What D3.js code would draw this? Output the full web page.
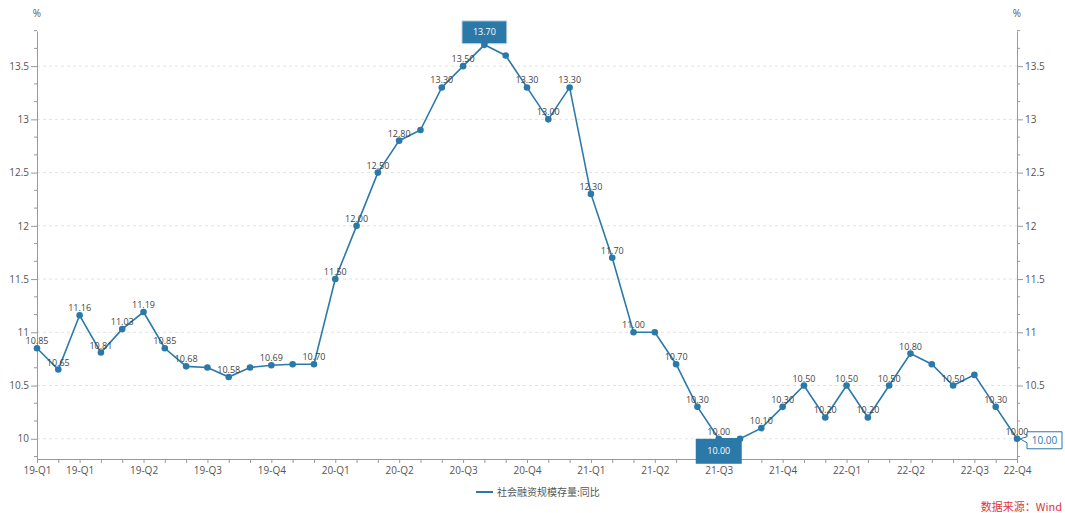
<!DOCTYPE html>
<html>
<head>
<meta charset="utf-8">
<script src="https://cdn.jsdelivr.net/npm/d3@7"></script>
<style>
  html, body { margin: 0; padding: 0; background: #fff; }
  svg { display: block; }
  text { font-family: "Open Sans", "Noto Sans CJK SC", sans-serif; }
</style>
</head>
<body>
<svg id="chart" width="1065" height="513"></svg>
<script>
// ---- data ----
const categories = [
  "2019-01","2019-02","2019-03","2019-04","2019-05","2019-06","2019-07","2019-08","2019-09","2019-10","2019-11","2019-12",
  "2020-01","2020-02","2020-03","2020-04","2020-05","2020-06","2020-07","2020-08","2020-09","2020-10","2020-11","2020-12",
  "2021-01","2021-02","2021-03","2021-04","2021-05","2021-06","2021-07","2021-08","2021-09","2021-10","2021-11","2021-12",
  "2022-01","2022-02","2022-03","2022-04","2022-05","2022-06","2022-07","2022-08","2022-09","2022-10","2022-11"
];
const values = [
  10.85,10.65,11.16,10.81,11.03,11.19,10.85,10.68,10.67,10.58,10.67,10.69,
  10.70,10.70,11.50,12.00,12.50,12.80,12.90,13.30,13.50,13.70,13.60,13.30,
  13.00,13.30,12.30,11.70,11.00,11.00,10.70,10.30,10.00,10.00,10.10,10.30,
  10.50,10.20,10.50,10.20,10.50,10.80,10.70,10.50,10.60,10.30,10.00
];
const tickLabels = [
  "19-Q1","","19-Q1","","","19-Q2","","","19-Q3","","","19-Q4",
  "","","20-Q1","","","20-Q2","","","20-Q3","","","20-Q4",
  "","","21-Q1","","","21-Q2","","","21-Q3","","","21-Q4",
  "","","22-Q1","","","22-Q2","","","22-Q3","","22-Q4"
];
const yTicks = [10, 10.5, 11, 11.5, 12, 12.5, 13, 13.5];
const yMinorTicks = [9.8333,10.1667,10.3333,10.6667,10.8333,11.1667,11.3333,11.6667,11.8333,12.1667,12.3333,12.6667,12.8333,13.1667,13.3333,13.6667,13.8333];
const seriesName = "社会融资规模存量:同比";
const sourceText = "数据来源：Wind";
const yUnit = "%";

// ---- layout ----
const color = "#2a79a8";
const pLeft = 37, pRight = 1017, pTop = 31, pBottom = 459;
const svg = d3.select("#chart");

const x = d3.scalePoint().domain(d3.range(values.length)).range([pLeft, pRight]);
const y = d3.scaleLinear().domain([9.81, 13.83]).range([pBottom, pTop]);

// grid
svg.append("g").selectAll("line").data(yTicks).join("line")
  .attr("x1", pLeft).attr("x2", pRight)
  .attr("y1", d => y(d)).attr("y2", d => y(d))
  .attr("stroke", "#e3e3e3").attr("stroke-dasharray", "3,3").attr("stroke-width", 1);

// axes
function styleAxis(g) {
  g.selectAll(".domain").attr("stroke", "#999");
  g.selectAll(".tick line").attr("stroke", "#999");
  g.selectAll(".tick text").attr("fill", "#555").style("font-size", "10px")
   .style("font-family", '"Open Sans", sans-serif');
}
const yLeft = svg.append("g").attr("transform", `translate(${pLeft},0)`)
  .call(d3.axisLeft(y).tickValues(yTicks).tickSize(6).tickPadding(2).tickSizeOuter(0).tickFormat(d3.format("")));
styleAxis(yLeft);
yLeft.append("g").selectAll("line").data(yMinorTicks).join("line")
  .attr("x1", -3).attr("x2", 0).attr("y1", d => y(d)).attr("y2", d => y(d)).attr("stroke", "#999");

const yRight = svg.append("g").attr("transform", `translate(${pRight},0)`)
  .call(d3.axisRight(y).tickValues(yTicks).tickSize(6).tickPadding(2).tickSizeOuter(0).tickFormat(d3.format("")));
styleAxis(yRight);
yRight.append("g").selectAll("line").data(yMinorTicks).join("line")
  .attr("x1", 0).attr("x2", 3).attr("y1", d => y(d)).attr("y2", d => y(d)).attr("stroke", "#999");

const xAxis = svg.append("g").attr("transform", `translate(0,${pBottom})`)
  .call(d3.axisBottom(x).tickSize(4).tickPadding(4).tickSizeOuter(0).tickFormat(i => tickLabels[i]));
styleAxis(xAxis);

// unit labels
svg.append("text").attr("x", pLeft).attr("y", 17).attr("text-anchor", "middle")
  .attr("fill", "#555").style("font-size", "10px").text(yUnit);
svg.append("text").attr("x", pRight).attr("y", 17).attr("text-anchor", "middle")
  .attr("fill", "#555").style("font-size", "10px").text(yUnit);

// min / max mark boxes (drawn below line)
const iMax = values.indexOf(d3.max(values));
const iMin = values.indexOf(d3.min(values));
const marks = svg.append("g");
{
  const px = x(iMax), py = y(values[iMax]);
  const w = 45, h = 23;
  const bx = px - w / 2, by = py - 1 - h;
  marks.append("path")
    .attr("d", `M${bx},${by}H${bx + w}V${by + h}H${px + 4}L${px},${py}L${px - 4},${by + h}H${bx}Z`)
    .attr("fill", color).attr("stroke", "#d8e6ee").attr("stroke-width", 1);
  marks.append("text").attr("x", px).attr("y", by + h / 2 + 3).attr("text-anchor", "middle")
    .attr("fill", "#fff").style("font-size", "9px").text(values[iMax].toFixed(2));
}
{
  const px = x(iMin), py = y(values[iMin]);
  const w = 46, h = 25;
  const bx = px - w / 2, by = py;
  marks.append("rect").attr("x", bx).attr("y", by).attr("width", w).attr("height", h)
    .attr("fill", color);
  marks.append("text").attr("x", px).attr("y", by + h / 2 + 3).attr("text-anchor", "middle")
    .attr("fill", "#fff").style("font-size", "9px").text(values[iMin].toFixed(2));
}

// line
svg.append("path").datum(values)
  .attr("d", d3.line().x((d, i) => x(i)).y(d => y(d)))
  .attr("fill", "none").attr("stroke", color).attr("stroke-width", 1.6);

// data labels with overlap hiding
const labelG = svg.append("g");
const placed = [];
values.forEach((v, i) => {
  const t = labelG.append("text").attr("x", x(i)).attr("y", y(v) - 4)
    .attr("text-anchor", "middle").attr("fill", "#444").style("font-size", "9px").text(v.toFixed(2));
  const b = t.node().getBBox();
  const r = { x0: b.x, x1: b.x + b.width, y0: b.y, y1: b.y + b.height };
  const hit = placed.some(p => r.x0 < p.x1 && r.x1 > p.x0 && r.y0 < p.y1 && r.y1 > p.y0);
  if (hit) t.remove(); else placed.push(r);
  if (i === iMax) t.remove();
});

// points
svg.append("g").selectAll("circle").data(values).join("circle")
  .attr("cx", (d, i) => x(i)).attr("cy", d => y(d)).attr("r", 3.3).attr("fill", color);

// end label
{
  const i = values.length - 1;
  const px = x(i), py = y(values[i]);
  const bx = px + 10, w = 35, h = 17, by = py - 7;
  svg.append("path")
    .attr("d", `M${bx},${by}H${bx + w}V${by + h}H${bx}V${py + 4}L${px + 3},${py}L${bx},${py - 2}Z`)
    .attr("fill", "#fff").attr("stroke", color).attr("stroke-width", 1);
  svg.append("text").attr("x", bx + w / 2).attr("y", by + h / 2 + 4).attr("text-anchor", "middle")
    .attr("fill", color).style("font-size", "10px").text(values[i].toFixed(2));
}

// legend
svg.append("line").attr("x1", 476).attr("x2", 493).attr("y1", 492).attr("y2", 492)
  .attr("stroke", color).attr("stroke-width", 2);
svg.append("text").attr("x", 497).attr("y", 495.5).attr("fill", "#555")
  .style("font-size", "10px").style("font-family", '"Noto Sans CJK SC", sans-serif').text(seriesName);

// source
svg.append("text").attr("x", 1062).attr("y", 511).attr("text-anchor", "end").attr("fill", "#e0353b")
  .style("font-size", "11px").style("font-family", '"Noto Sans CJK SC", sans-serif').text(sourceText);
</script>
</body>
</html>
